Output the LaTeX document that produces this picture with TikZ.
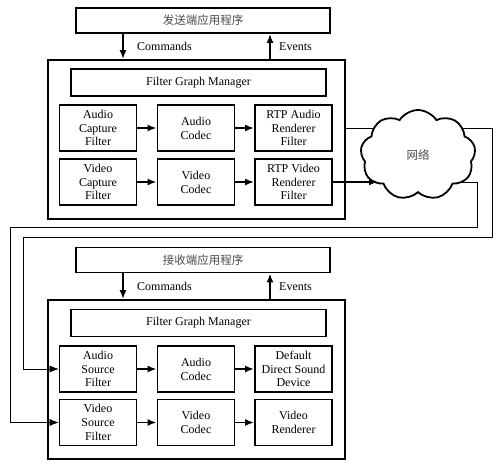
\documentclass[tikz,border=0pt]{standalone}
\usepackage{fontspec}
\setmainfont{Liberation Serif}
\newfontfamily\cjk{Noto Sans CJK SC}
\usetikzlibrary{shapes,arrows.meta,backgrounds}

\begin{document}
\begin{tikzpicture}[x=1pt, y=-1pt, line width=1.8pt,
    >={Latex[length=9pt,width=7pt]},
    font=\fontsize{12}{13.8}\selectfont,
    appbox/.style={rectangle, draw, minimum width=254pt, minimum height=25pt,
                   font=\cjk\fontsize{11.5}{13}\selectfont, text=black!70},
    groupbox/.style={rectangle, draw, minimum width=297pt, minimum height=159pt},
    fgmbox/.style={rectangle, draw, minimum width=255pt, minimum height=27pt},
    filterbox/.style={rectangle, draw, minimum width=77pt, minimum height=46pt,
                      align=center, inner sep=1pt},
]
\useasboundingbox (0,0) rectangle (500,467);

% Sender side
\node[appbox] (sapp) at (203,20.5) {发送端应用程序};
\node[groupbox] (sendbox) at (196.5,139.5) {};
\node[fgmbox] (sfgm) at (198.5,82.5) {Filter Graph Manager};
\node[filterbox] (acap) at (98,128) {Audio\\Capture\\Filter};
\node[filterbox] (acod) at (196,128) {Audio\\Codec};
\node[filterbox] (rtpa) at (293.5,128) {RTP Audio\\Renderer\\Filter};
\node[filterbox] (vcap) at (98,182) {Video\\Capture\\Filter};
\node[filterbox] (vcod) at (196,182) {Video\\Codec};
\node[filterbox] (rtpv) at (293.5,182) {RTP Video\\Renderer\\Filter};

\draw[->] (sapp.south -| 123,0) -- node[right=10pt] {Commands} (sendbox.north -| 123,0);
\draw[->] (sendbox.north -| 270,0) -- node[right=5pt] {Events} (sapp.south -| 270,0);
\draw[->] (acap) -- (acod);
\draw[->] (acod) -- (rtpa);
\draw[->] (vcap) -- (vcod);
\draw[->] (vcod) -- (rtpv);

% Network
\node[cloud, draw, fill=white, cloud puffs=9, cloud puff arc=115,
      minimum width=115pt, minimum height=90pt, inner sep=0pt,
      font=\cjk\fontsize{11.5}{13}\selectfont, text=black!70] (net) at (418,155) {网络};
\coordinate (netin) at (378,182);
\draw[->] (rtpv.east) -- (netin);

% Receiver side
\node[appbox] (rapp) at (203,260) {接收端应用程序};
\node[groupbox] (recvbox) at (196.5,379.5) {};
\node[fgmbox] (rfgm) at (198.5,323) {Filter Graph Manager};
\node[filterbox] (asrc) at (98,369) {Audio\\Source\\Filter};
\node[filterbox] (adec) at (196,369) {Audio\\Codec};
\node[filterbox] (dsnd) at (293.5,369) {Default\\Direct Sound\\Device};
\node[filterbox] (vsrc) at (98,422.5) {Video\\Source\\Filter};
\node[filterbox] (vdec) at (196,422.5) {Video\\Codec};
\node[filterbox] (vren) at (293.5,422.5) {Video\\Renderer};

\draw[->] (rapp.south -| 123,0) -- node[right=10pt] {Commands} (recvbox.north -| 123,0);
\draw[->] (recvbox.north -| 270,0) -- node[right=5pt] {Events} (rapp.south -| 270,0);
\draw[->] (asrc) -- (adec);
\draw[->] (adec) -- (dsnd);
\draw[->] (vsrc) -- (vdec);
\draw[->] (vdec) -- (vren);

% Links through the network
\coordinate (aup) at (492,237);
\coordinate (adown) at (23,237);
\coordinate (vup) at (477,227);
\coordinate (vdown) at (10,227);
\begin{scope}[on background layer]
\draw[->] (sendbox.east |- rtpa.east) -| (aup) -- (adown) |- (asrc.west);
\draw[->] (net.center |- rtpv.east) -| (vup) -- (vdown) |- (vsrc.west);
\end{scope}

\end{tikzpicture}
\end{document}
